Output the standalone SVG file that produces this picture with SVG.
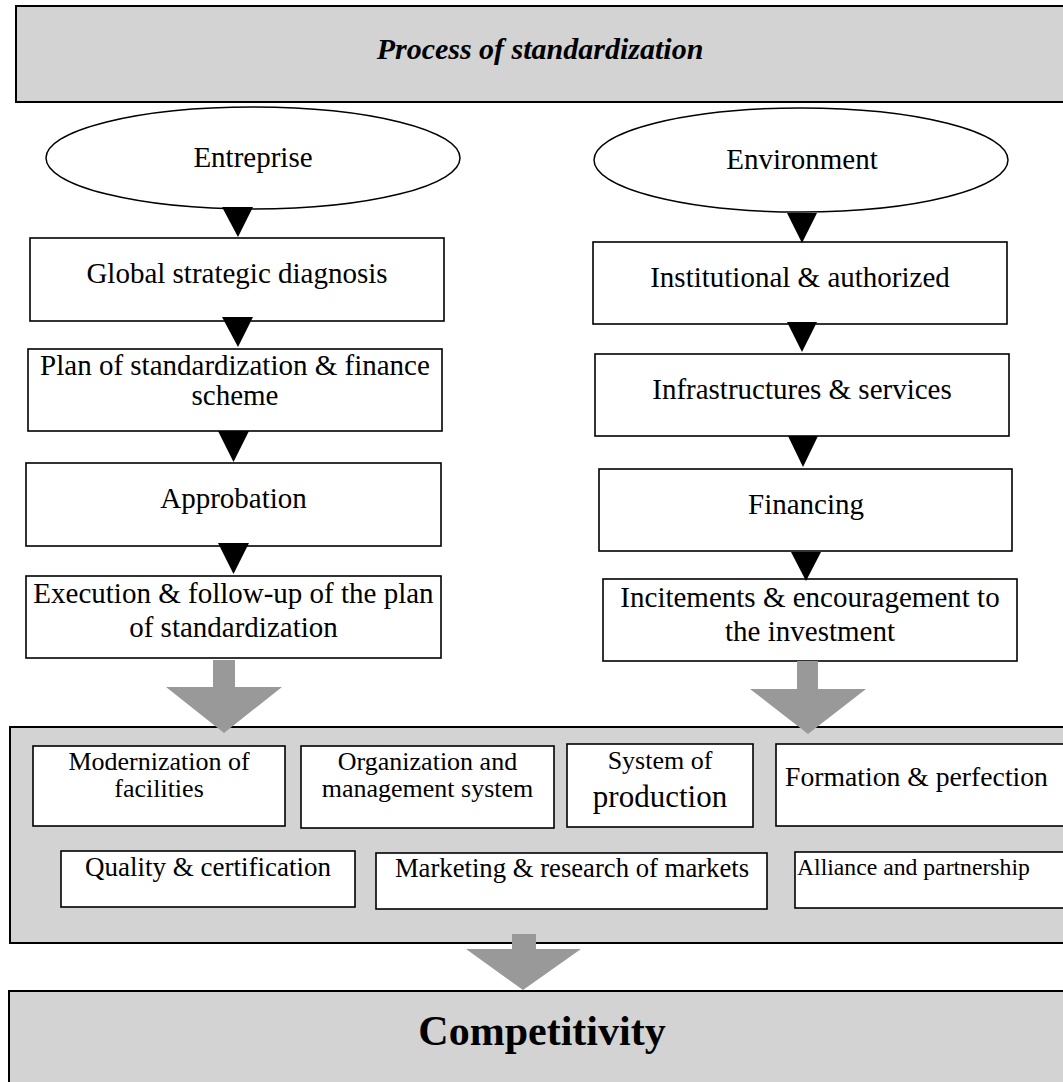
<svg xmlns="http://www.w3.org/2000/svg" width="1063" height="1082" viewBox="0 0 1063 1082">
<style>
  .band{fill:#d3d3d3;stroke:#000;stroke-width:2}
  .box{fill:#fff;stroke:#000;stroke-width:1.6}
  .ell{fill:#fff;stroke:#000;stroke-width:1.5}
  .t{font-family:"Liberation Serif","Times New Roman",serif;fill:#000;text-anchor:middle}
  .s{text-anchor:start}
  .t29{font-size:29px}
  .t27{font-size:27px}
  .t26{font-size:26px}
  .tri{fill:#000}
  .big{fill:#999}
</style>
<rect width="1063" height="1082" fill="#fff"/>

<g id="title">
  <rect class="band" x="16" y="6" width="1060" height="96"/>
  <text class="t" x="540" y="59" font-size="30" font-weight="bold" font-style="italic">Process of standardization</text>
</g>

<g id="entreprise">
  <ellipse class="ell" cx="253" cy="158" rx="207" ry="51"/>
  <text class="t t29" x="253" y="167">Entreprise</text>
</g>
<g id="environment">
  <ellipse class="ell" cx="801" cy="160" rx="207" ry="52"/>
  <text class="t t29" x="802" y="169">Environment</text>
</g>

<g id="global">
  <rect class="box" x="30" y="238" width="414" height="83"/>
  <text class="t t29" x="237" y="283">Global strategic diagnosis</text>
</g>
<g id="plan">
  <rect class="box" x="28" y="349" width="414" height="82"/>
  <text class="t t29" x="235" y="375">Plan of standardization &amp; finance</text>
  <text class="t t29" x="235" y="405">scheme</text>
</g>
<g id="approbation">
  <rect class="box" x="26" y="463" width="415" height="83"/>
  <text class="t t29" x="233.5" y="508">Approbation</text>
</g>
<g id="execution">
  <rect class="box" x="26" y="576" width="415" height="82"/>
  <text class="t t29" x="233.5" y="603">Execution &amp; follow-up of the plan</text>
  <text class="t t29" x="233.5" y="637">of standardization</text>
</g>

<g id="institutional">
  <rect class="box" x="593" y="242" width="414" height="82"/>
  <text class="t t29" x="800" y="287">Institutional &amp; authorized</text>
</g>
<g id="infrastructures">
  <rect class="box" x="595" y="354" width="414" height="82"/>
  <text class="t t29" x="802" y="399">Infrastructures &amp; services</text>
</g>
<g id="financing">
  <rect class="box" x="599" y="469" width="413" height="82"/>
  <text class="t t29" x="806" y="514">Financing</text>
</g>
<g id="incitements">
  <rect class="box" x="603" y="579" width="414" height="82"/>
  <text class="t t29" x="810" y="607">Incitements &amp; encouragement to</text>
  <text class="t t29" x="810" y="641">the investment</text>
</g>

<g id="factors">
  <rect class="band" x="10" y="727" width="1065" height="216"/>
</g>
<g id="modernization">
  <rect class="box" x="33" y="746" width="252" height="80"/>
  <text class="t t26" x="159" y="770">Modernization of</text>
  <text class="t t26" x="159" y="797">facilities</text>
</g>
<g id="organization">
  <rect class="box" x="301" y="746" width="253" height="82"/>
  <text class="t t26" x="427.5" y="770">Organization and</text>
  <text class="t t26" x="427.5" y="797">management system</text>
</g>
<g id="production">
  <rect class="box" x="567" y="744" width="186" height="83"/>
  <text class="t t26" x="660" y="769">System of</text>
  <text class="t" font-size="31" x="660" y="807">production</text>
</g>
<g id="formation">
  <rect class="box" x="776" y="744" width="300" height="82"/>
  <text class="t s" font-size="27.7" x="785" y="786">Formation &amp; perfection</text>
</g>
<g id="quality">
  <rect class="box" x="61" y="851" width="294" height="56"/>
  <text class="t t27" x="208" y="876">Quality &amp; certification</text>
</g>
<g id="marketing">
  <rect class="box" x="376" y="853" width="391" height="56"/>
  <text class="t" font-size="26.7" x="572" y="877">Marketing &amp; research of markets</text>
</g>
<g id="alliance">
  <rect class="box" x="795" y="852" width="280" height="56"/>
  <text class="t s" font-size="23.7" x="797" y="875">Alliance and partnership</text>
</g>

<g id="competitivity">
  <rect class="band" x="9" y="991" width="1066" height="100"/>
  <text class="t" x="542" y="1045" font-size="42" font-weight="bold">Competitivity</text>
</g>

<g id="connectors">
  <polygon class="tri" points="222,207 253,207 238,237"/>
  <polygon class="tri" points="222,317 253,317 238,347"/>
  <polygon class="tri" points="218,431 249,431 233.5,462"/>
  <polygon class="tri" points="218,543 249,543 233.5,574"/>
  <polygon class="tri" points="787,213 817,213 802,243"/>
  <polygon class="tri" points="787,322 817,322 802,352"/>
  <polygon class="tri" points="788,436 818,436 803,467"/>
  <polygon class="tri" points="791,552 821,552 806,581"/>
  <polygon class="big" points="213,660 235,660 235,687 282,687 224,733 166,687 213,687"/>
  <polygon class="big" points="797,661 818,661 818,689 866,689 808,734 750,689 797,689"/>
  <polygon class="big" points="512,934 536,934 536,949 581,949 523,990 466,949 512,949"/>
</g>
</svg>
